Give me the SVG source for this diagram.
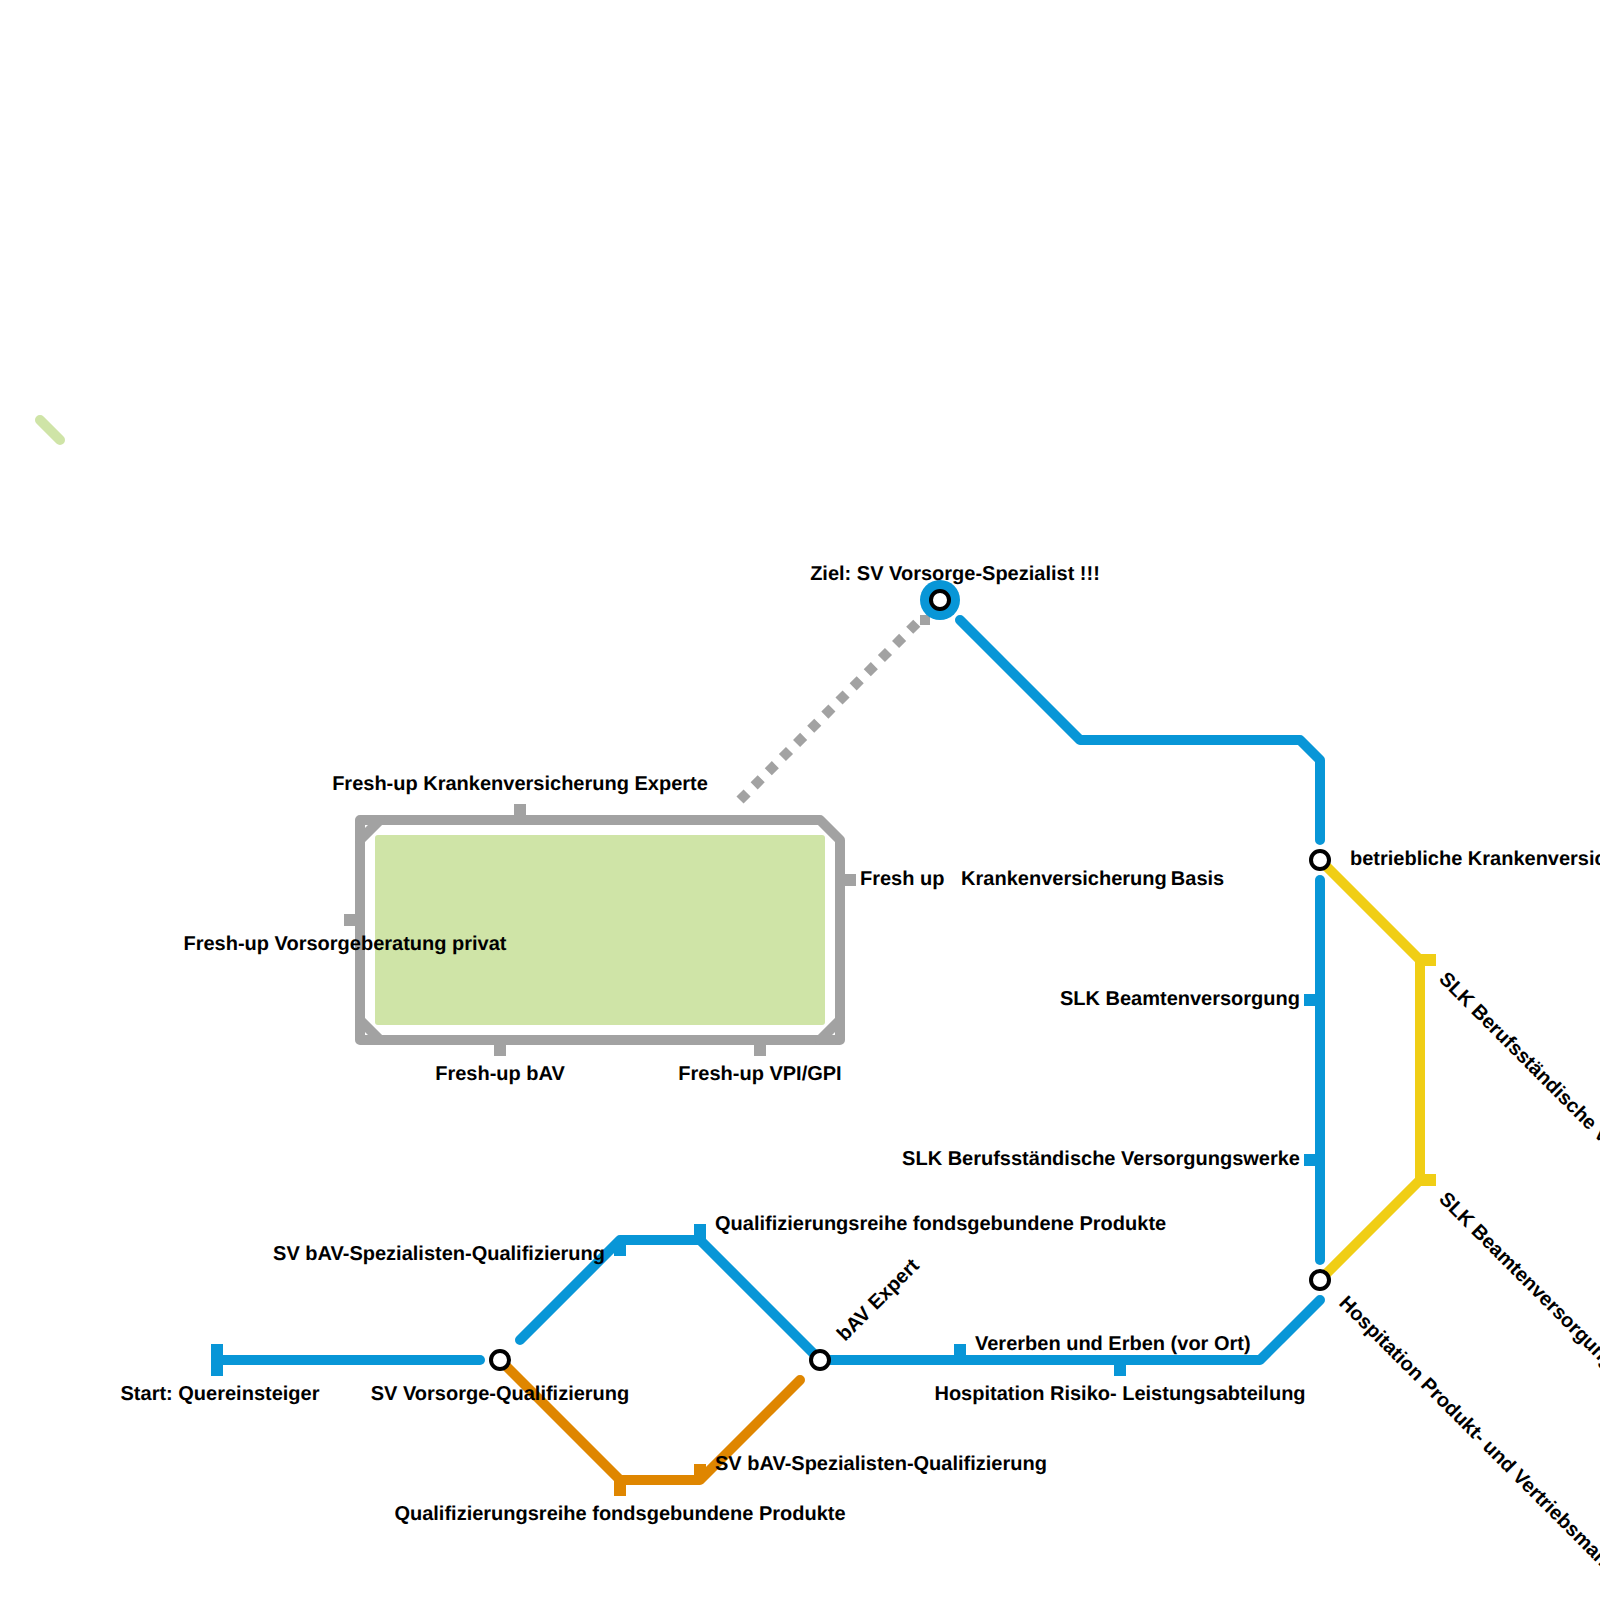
<svg xmlns="http://www.w3.org/2000/svg" width="1600" height="1600" viewBox="0 0 1600 1600">
<style>
.l{fill:none;stroke-width:10;stroke-linecap:round;stroke-linejoin:round}
.b{stroke:#0896d7}.o{stroke:#df8600}.y{stroke:#f0ce15}.g{stroke:#a2a2a2}
.fb{fill:#0896d7}.fo{fill:#df8600}.fy{fill:#f0ce15}.fg{fill:#a2a2a2}
.st{fill:#fff;stroke:#000;stroke-width:4}
text{font-family:"Liberation Sans",Arial,sans-serif;font-weight:700;font-size:20px;fill:#000;text-rendering:geometricPrecision}
.m{text-anchor:middle}.e{text-anchor:end}
</style>
<rect width="1600" height="1600" fill="#fff"/>
<g id="connectors">
<rect x="375" y="835" width="450" height="190" rx="3" fill="#cfe4a7"/>
<path class="l" d="M40 420L60 440" stroke="#cfe4a7"/>
<path class="l g" d="M380 820H820L840 840V1020L820 1040H380L360 1020V840Z"/>
<path class="l g" d="M380 820H360V840M360 1020V1040H380M820 1040H840V1020"/>
<path d="M740 800L920 620" fill="none" stroke="#a2a2a2" stroke-width="10" stroke-dasharray="10 10"/>
<rect class="fg" x="920" y="615" width="10" height="10"/>
<path class="l b" d="M220 1360H480"/>
<path class="l b" d="M520 1340L620 1240H700L820 1360"/>
<path class="l o" d="M500 1360L620 1480H700L800 1380"/>
<path class="l b" d="M820 1360H1260L1320 1300"/>
<path class="l b" d="M1320 880V1260"/>
<path class="l b" d="M960 620L1080 740H1300L1320 760V840"/>
<path class="l y" d="M1320 860L1420 960V1180L1320 1280"/>
<g class="fb">
<rect x="211" y="1344" width="12" height="32"/>
<rect x="614" y="1240" width="12" height="16"/>
<rect x="694" y="1224" width="12" height="16"/>
<rect x="954" y="1344" width="12" height="16"/>
<rect x="1114" y="1360" width="12" height="16"/>
<rect x="1304" y="994" width="16" height="12"/>
<rect x="1304" y="1154" width="16" height="12"/>
</g>
<g class="fo">
<rect x="614" y="1480" width="12" height="16"/>
<rect x="694" y="1464" width="12" height="16"/>
</g>
<g class="fy">
<rect x="1420" y="954" width="16" height="12"/>
<rect x="1420" y="1174" width="16" height="12"/>
</g>
<g class="fg">
<rect x="514" y="804" width="12" height="16"/>
<rect x="344" y="914" width="16" height="12"/>
<rect x="840" y="874" width="16" height="12"/>
<rect x="494" y="1040" width="12" height="16"/>
<rect x="754" y="1040" width="12" height="16"/>
</g>
</g>
<g id="n-start"><text class="m" x="220" y="1400">Start: Quereinsteiger</text></g>
<g id="n-vorsorge"><circle class="st" cx="500" cy="1360" r="9"/><text class="m" x="500" y="1400">SV Vorsorge-Qualifizierung</text></g>
<g id="n-bav-blue"><text class="e" x="605" y="1260">SV bAV-Spezialisten-Qualifizierung</text></g>
<g id="n-reihe-blue"><text x="715" y="1230">Qualifizierungsreihe fondsgebundene Produkte</text></g>
<g id="n-bav-expert"><circle class="st" cx="820" cy="1360" r="9"/><text transform="translate(845 1342) rotate(-45)">bAV Expert</text></g>
<g id="n-reihe-orange"><text class="m" x="620" y="1520">Qualifizierungsreihe fondsgebundene Produkte</text></g>
<g id="n-bav-orange"><text x="715" y="1470">SV bAV-Spezialisten-Qualifizierung</text></g>
<g id="n-erben"><text x="975" y="1350">Vererben und Erben (vor Ort)</text></g>
<g id="n-hospitation"><text class="m" x="1120" y="1400">Hospitation Risiko- Leistungsabteilung</text></g>
<g id="n-produkt"><circle class="st" cx="1320" cy="1280" r="9"/><text transform="translate(1338 1304) rotate(45)">Hospitation Produkt- und Vertriebsmanagement</text></g>
<g id="n-bkv"><circle class="st" cx="1320" cy="860" r="9"/><text x="1350" y="865">betriebliche Krankenversicherung</text></g>
<g id="n-slk-beamte"><text class="e" x="1300" y="1005">SLK Beamtenversorgung</text></g>
<g id="n-slk-beruf"><text class="e" x="1300" y="1165">SLK Berufsständische Versorgungswerke</text></g>
<g id="n-y-beruf"><text transform="translate(1438 980) rotate(45)">SLK Berufsständische Versorgungswerke</text></g>
<g id="n-y-beamte"><text transform="translate(1438 1200) rotate(45)">SLK Beamtenversorgung</text></g>
<g id="n-ziel"><circle cx="940" cy="600" r="20" fill="#0896d7"/><circle class="st" cx="940" cy="600" r="9"/><text class="m" x="955" y="580">Ziel: SV Vorsorge-Spezialist !!!</text></g>
<g id="n-fresh-kv"><text class="m" x="520" y="790">Fresh-up Krankenversicherung Experte</text></g>
<g id="n-fresh-basis"><text x="860" y="885" xml:space="preserve">Fresh up   Krankenversicherung <tspan dx="-1.5">Basis</tspan></text></g>
<g id="n-fresh-privat"><text class="m" x="345" y="950">Fresh-up Vorsorgeberatung privat</text></g>
<g id="n-fresh-bav"><text class="m" x="500" y="1080">Fresh-up bAV</text></g>
<g id="n-fresh-vpi"><text class="m" x="760" y="1080">Fresh-up VPI/GPI</text></g>
</svg>
